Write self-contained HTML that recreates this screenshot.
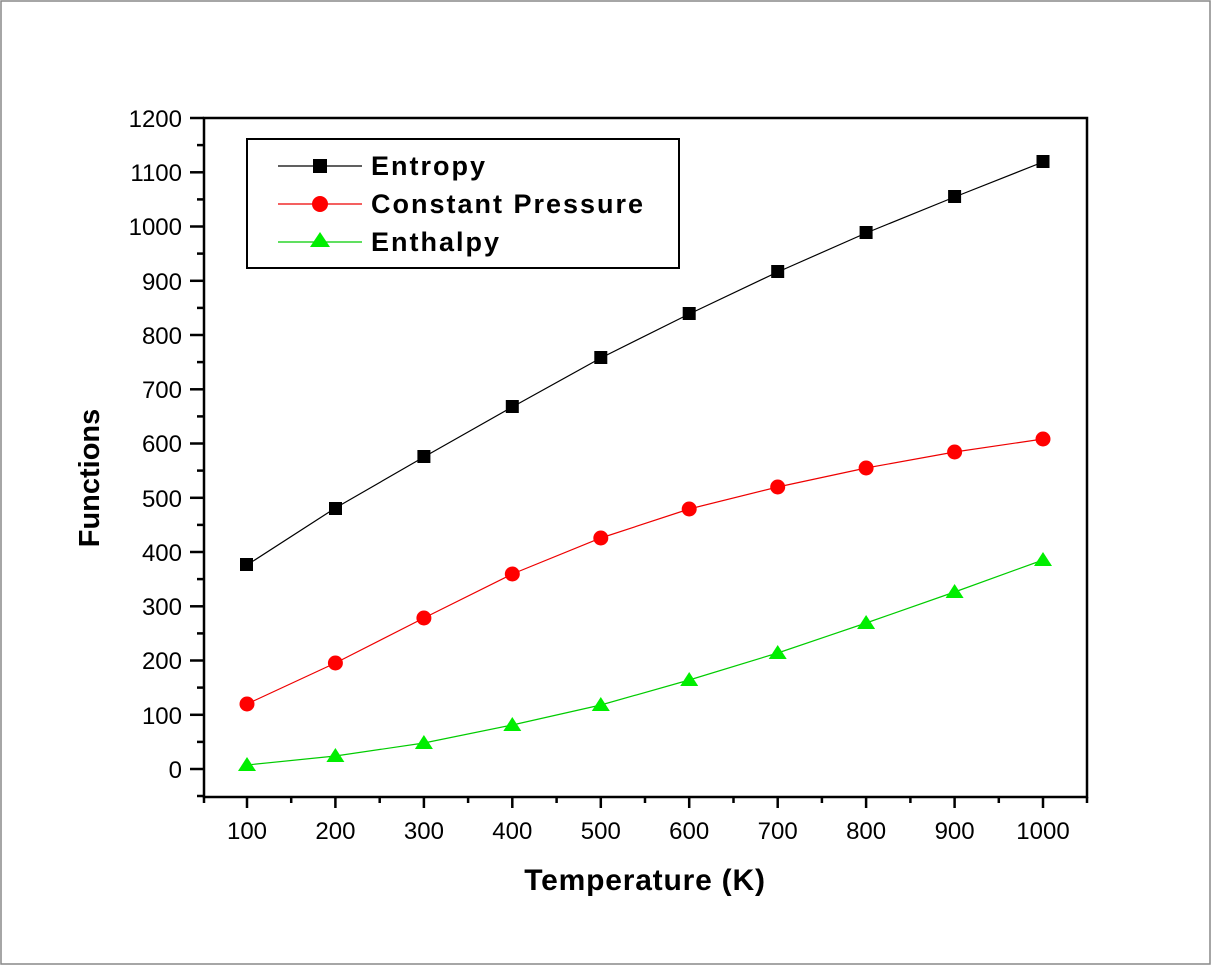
<!DOCTYPE html>
<html><head><style>
html,body{margin:0;padding:0;background:#fff;}
svg{display:block;}
text{font-family:"Liberation Sans",Arial,sans-serif;}
</style></head><body>
<svg width="1212" height="966" viewBox="0 0 1212 966" xmlns="http://www.w3.org/2000/svg">
<rect x="1" y="1" width="1209" height="963" fill="#fff" stroke="#888" stroke-width="1.5"/>
<rect x="204" y="118" width="883" height="679" fill="none" stroke="#000" stroke-width="2.5"/>
<g stroke="#000" stroke-width="2.5">
<line x1="190" y1="118" x2="204" y2="118"/><line x1="190" y1="172.3" x2="204" y2="172.3"/>
<line x1="190" y1="226.5" x2="204" y2="226.5"/><line x1="190" y1="280.8" x2="204" y2="280.8"/>
<line x1="190" y1="335" x2="204" y2="335"/><line x1="190" y1="389.3" x2="204" y2="389.3"/>
<line x1="190" y1="443.5" x2="204" y2="443.5"/><line x1="190" y1="497.8" x2="204" y2="497.8"/>
<line x1="190" y1="552" x2="204" y2="552"/><line x1="190" y1="606.3" x2="204" y2="606.3"/>
<line x1="190" y1="660.5" x2="204" y2="660.5"/><line x1="190" y1="714.8" x2="204" y2="714.8"/>
<line x1="190" y1="769" x2="204" y2="769"/>
<line x1="197" y1="145.1" x2="204" y2="145.1"/><line x1="197" y1="199.4" x2="204" y2="199.4"/>
<line x1="197" y1="253.6" x2="204" y2="253.6"/><line x1="197" y1="307.9" x2="204" y2="307.9"/>
<line x1="197" y1="362.1" x2="204" y2="362.1"/><line x1="197" y1="416.4" x2="204" y2="416.4"/>
<line x1="197" y1="470.6" x2="204" y2="470.6"/><line x1="197" y1="524.9" x2="204" y2="524.9"/>
<line x1="197" y1="579.1" x2="204" y2="579.1"/><line x1="197" y1="633.4" x2="204" y2="633.4"/>
<line x1="197" y1="687.6" x2="204" y2="687.6"/><line x1="197" y1="741.9" x2="204" y2="741.9"/>
<line x1="197" y1="796" x2="204" y2="796"/>
</g>
<g stroke="#000" stroke-width="2.5">
<line x1="247" y1="797" x2="247" y2="808"/><line x1="335.4" y1="797" x2="335.4" y2="808"/>
<line x1="423.9" y1="797" x2="423.9" y2="808"/><line x1="512.3" y1="797" x2="512.3" y2="808"/>
<line x1="600.8" y1="797" x2="600.8" y2="808"/><line x1="689.2" y1="797" x2="689.2" y2="808"/>
<line x1="777.7" y1="797" x2="777.7" y2="808"/><line x1="866.1" y1="797" x2="866.1" y2="808"/>
<line x1="954.6" y1="797" x2="954.6" y2="808"/><line x1="1043" y1="797" x2="1043" y2="808"/>
<line x1="204" y1="797" x2="204" y2="803"/><line x1="291.2" y1="797" x2="291.2" y2="803"/>
<line x1="379.7" y1="797" x2="379.7" y2="803"/><line x1="468.1" y1="797" x2="468.1" y2="803"/>
<line x1="556.6" y1="797" x2="556.6" y2="803"/><line x1="645" y1="797" x2="645" y2="803"/>
<line x1="733.5" y1="797" x2="733.5" y2="803"/><line x1="821.9" y1="797" x2="821.9" y2="803"/>
<line x1="910.4" y1="797" x2="910.4" y2="803"/><line x1="998.8" y1="797" x2="998.8" y2="803"/>
<line x1="1087" y1="797" x2="1087" y2="803"/>
</g>
<g font-size="24" text-anchor="end" fill="#000">
<text x="182" y="127">1200</text><text x="182" y="181">1100</text><text x="182" y="235">1000</text>
<text x="182" y="290">900</text><text x="182" y="344">800</text><text x="182" y="398">700</text>
<text x="182" y="452">600</text><text x="182" y="507">500</text><text x="182" y="561">400</text>
<text x="182" y="615">300</text><text x="182" y="669">200</text><text x="182" y="724">100</text>
<text x="182" y="778">0</text>
</g>
<g font-size="24" text-anchor="middle" fill="#000">
<text x="247" y="839">100</text><text x="335.4" y="839">200</text><text x="423.9" y="839">300</text>
<text x="512.3" y="839">400</text><text x="600.8" y="839">500</text><text x="689.2" y="839">600</text>
<text x="777.7" y="839">700</text><text x="866.1" y="839">800</text><text x="954.6" y="839">900</text>
<text x="1043" y="839">1000</text>
</g>
<text x="645" y="890" font-size="30" font-weight="bold" text-anchor="middle" letter-spacing="0.8">Temperature (K)</text>
<text transform="translate(99,478) rotate(-90)" font-size="29" font-weight="bold" text-anchor="middle">Functions</text>
<polyline fill="none" stroke="#000" stroke-width="1.2" points="247,565 335.4,508 423.9,457 512.3,407 600.8,358 689.2,314 777.7,272 866.1,233 954.6,197 1043,162"/>
<polyline fill="none" stroke="#e00" stroke-width="1.2" points="247,704 335.4,663 423.9,618 512.3,574 600.8,538 689.2,509 777.7,487 866.1,468 954.6,452 1043,439"/>
<polyline fill="none" stroke="#0c0" stroke-width="1.2" points="247,765 335.4,756 423.9,743 512.3,725 600.8,705 689.2,680 777.7,653 866.1,623 954.6,592 1043,560"/>
<g fill="#000">
<rect x="240" y="558" width="13" height="13"/><rect x="329" y="502" width="13" height="13"/>
<rect x="417.4" y="450" width="13" height="13"/><rect x="505.8" y="400" width="13" height="13"/>
<rect x="594.3" y="351" width="13" height="13"/><rect x="682.7" y="307" width="13" height="13"/>
<rect x="771.2" y="265" width="13" height="13"/><rect x="859.6" y="226" width="13" height="13"/>
<rect x="948.1" y="190" width="13" height="13"/><rect x="1036.5" y="155" width="13" height="13"/>
</g>
<g fill="#f00">
<circle cx="247" cy="704" r="7.5"/><circle cx="335.4" cy="663" r="7.5"/><circle cx="423.9" cy="618" r="7.5"/>
<circle cx="512.3" cy="574" r="7.5"/><circle cx="600.8" cy="538" r="7.5"/><circle cx="689.2" cy="509" r="7.5"/>
<circle cx="777.7" cy="487" r="7.5"/><circle cx="866.1" cy="468" r="7.5"/><circle cx="954.6" cy="452" r="7.5"/>
<circle cx="1043" cy="439" r="7.5"/>
</g>
<g fill="#0e0">
<polygon points="247,757 238,771 256,771"/><polygon points="335.4,748 326.4,762 344.4,762"/>
<polygon points="423.9,735 414.9,749 432.9,749"/><polygon points="512.3,717 503.3,731 521.3,731"/>
<polygon points="600.8,697 591.8,711 609.8,711"/><polygon points="689.2,672 680.2,686 698.2,686"/>
<polygon points="777.7,645 768.7,659 786.7,659"/><polygon points="866.1,615 857.1,629 875.1,629"/>
<polygon points="954.6,584 945.6,598 963.6,598"/><polygon points="1043,552 1034,566 1052,566"/>
</g>
<rect x="247" y="139" width="432" height="129" fill="#fff" stroke="#000" stroke-width="2"/>
<line x1="278" y1="166" x2="362" y2="166" stroke="#000" stroke-width="1.2"/>
<rect x="313" y="159" width="14" height="14" fill="#000"/>
<line x1="278" y1="204" x2="362" y2="204" stroke="#e00" stroke-width="1.2"/>
<circle cx="320" cy="204" r="8" fill="#f00"/>
<line x1="278" y1="242" x2="362" y2="242" stroke="#0c0" stroke-width="1.2"/>
<polygon points="320,232 310,247 330,247" fill="#0e0"/>
<g font-size="27" font-weight="bold" letter-spacing="2">
<text x="371" y="175">Entropy</text>
<text x="371" y="213">Constant Pressure</text>
<text x="371" y="251">Enthalpy</text>
</g>
</svg>
</body></html>
